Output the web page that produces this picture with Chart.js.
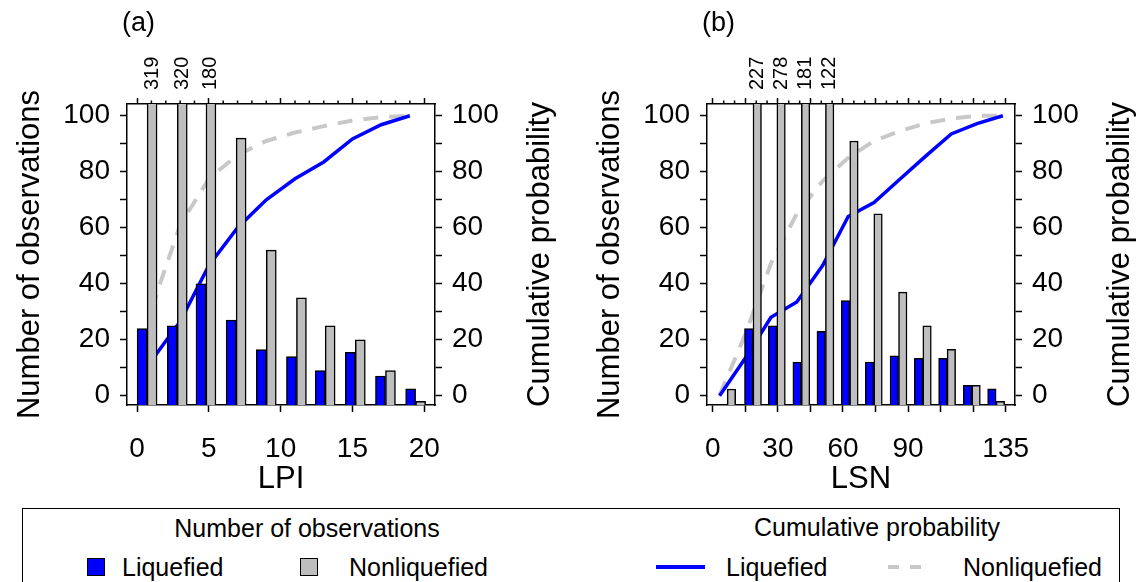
<!DOCTYPE html>
<html lang="en">
<head>
<meta charset="UTF-8">
<title>LPI and LSN distributions</title>
<script src="https://cdn.jsdelivr.net/npm/chart.js"></script>
<style>
    body { margin: 0; background: #fff; font-family: 'Liberation Sans', Arial, sans-serif; }
    #wrap { position: relative; width: 1140px; height: 582px; overflow: hidden; }
    .panel { position: absolute; top: 0; width: 570px; height: 505px; }
    #legend { position: absolute; left: 22px; top: 508px; width: 1098px; height: 100px;
              border: 1.5px solid #000; box-sizing: border-box; }
    #legend span { position: absolute; font-size: 25px; line-height: 28px; white-space: nowrap; color: #000; }
    #legend .center { transform: translateX(-50%); }
    #legend i { position: absolute; display: block; box-sizing: border-box; }
</style>
</head>
<body>
<div id="wrap">
    <canvas id="chart-lpi" class="panel" style="left:0" width="570" height="505"></canvas>
    <canvas id="chart-lsn" class="panel" style="left:570px" width="570" height="505"></canvas>

    <div id="legend">
        <span class="center" style="left:284px; top:5px">Number of observations</span>
        <span class="center" style="left:854px; top:4px">Cumulative probability</span>

        <i style="left:64px; top:49px; width:18px; height:18px; background:#0000ff; border:1.5px solid #000"></i>
        <span style="left:99px; top:44px">Liquefied</span>
        <i style="left:277px; top:49px; width:18px; height:18px; background:#bebebe; border:1.5px solid #000"></i>
        <span style="left:326px; top:44px">Nonliquefied</span>

        <i style="left:633px; top:56px; width:49px; height:4px; background:#0000ff"></i>
        <span style="left:703px; top:44px">Liquefied</span>
        <i style="left:865px; top:56px; width:11px; height:4px; background:#c8c8c8"></i>
        <i style="left:887px; top:56px; width:11px; height:4px; background:#c8c8c8"></i>
        <span style="left:940px; top:44px">Nonliquefied</span>
    </div>
</div>

<script>
    // ---- panel (a): LPI ----
    const lpiBarX       = [0.7, 2.8, 4.8, 6.9, 9.0, 11.1, 13.1, 15.2, 17.3, 19.4];
    const lpiLiqCount   = [24, 25, 40, 27, 16.5, 14, 9, 15.5, 7, 2.5];
    const lpiNonCount   = [319, 320, 180, 92, 52, 35, 25, 20, 9, -2];
    const lpiCumX       = [1, 3, 5, 7, 9, 11, 13, 15, 17, 19];
    const lpiLiqCum     = [12.5, 26.5, 46.5, 60, 70, 77.5, 83.5, 91.7, 96.8, 100];
    const lpiNonCum     = [31, 61, 77.5, 86, 91, 94, 96.3, 98.3, 99.5, 100];
    const lpiTicks      = [0, 5, 10, 15, 20];
    const lpiMinorTicks = [1, 2, 3, 4, 6, 7, 8, 9, 11, 12, 13, 14, 16, 17, 18, 19];
    const lpiLabels     = [0, 5, 10, 15, 20];

    // ---- panel (b): LSN ----
    const lsnBarX       = [6.6, 18.5, 29.5, 40.8, 51.9, 63.1, 74.2, 85.6, 96.8, 108.0, 119.4, 130.6];
    const lsnLiqCount   = [null, 24, 25, 12, 23, 34, 12, 14.3, 13.4, 13.4, 3.7, 2.5];
    const lsnNonCount   = [2.4, 227, 278, 181, 122, 91, 65, 37, 25, 16.6, 3.7, -2];
    const lsnCumX       = [3.1, 15, 26.8, 38.7, 50.6, 62.4, 74.3, 86.2, 98, 109.9, 121.8, 133.7];
    const lsnLiqCum     = [0, 13.5, 28, 33.5, 46.5, 64, 69, 77.3, 85.5, 93.5, 97.2, 100];
    const lsnNonCum     = [0.2, 22, 47.3, 65, 76.7, 85, 91, 94.5, 97.3, 99, 100, 100];
    const lsnTicks      = [0, 15, 30, 45, 60, 75, 90, 105, 120, 135];
    const lsnMinorTicks = [5, 10, 20, 25, 35, 40, 50, 55, 65, 70, 80, 85, 95, 100, 110, 115, 125, 130];
    const lsnLabels     = [0, 30, 60, 90, 135];

    // shared y axis (counts on the left, cumulative % on the right)
    const yTicks  = [0, 10, 20, 30, 40, 50, 60, 70, 80, 90, 100];
    const yLabels = [0, 20, 40, 60, 80, 100];

    const FONT = "'Liberation Sans', Arial, sans-serif";
    Chart.defaults.font.family = FONT;
    Chart.defaults.color = '#000';

    const pts = (xs, ys) => xs.map((x, i) => ({ x: x, y: ys[i] }));
    const tickList = arr => s => { s.ticks = arr.map(v => ({ value: v })); };

    // minor ticks, clipped-bar counts, right title and panel letter
    const decor = {
        id: 'decor',
        afterDraw(chart, args, o) {
            const ctx = chart.ctx, a = chart.chartArea, xs = chart.scales.x;
            ctx.save();
            ctx.strokeStyle = '#000';
            ctx.lineWidth = 1.5;
            o.minorTicks.forEach(v => {
                const px = xs.getPixelForValue(v);
                ctx.beginPath();
                ctx.moveTo(px, a.top);
                ctx.lineTo(px, a.top - 3.5);
                ctx.stroke();
            });

            ctx.fillStyle = '#000';
            ctx.font = '20px ' + FONT;
            ctx.textAlign = 'left';
            ctx.textBaseline = 'middle';
            const meta = chart.getDatasetMeta(1);
            const yMax = chart.scales.y.max;
            chart.data.datasets[1].data.forEach((d, i) => {
                if (d.y > yMax) {
                    ctx.save();
                    ctx.translate(meta.data[i].x, a.top - 14);
                    ctx.rotate(-Math.PI / 2);
                    ctx.fillText(String(d.y), 0, 0);
                    ctx.restore();
                }
            });

            ctx.font = '31px ' + FONT;
            ctx.textAlign = 'center';
            ctx.save();
            ctx.translate(a.right + 105, (a.top + a.bottom) / 2);
            ctx.rotate(-Math.PI / 2);
            ctx.fillText(o.rightTitle, 0, 0);
            ctx.restore();

            ctx.font = '27px ' + FONT;
            ctx.textAlign = 'left';
            ctx.fillText(o.letter, a.left - 5, 24);
            ctx.restore();
        }
    };

    function makePanel(id, p) {
        const axisLine = { color: '#000', width: 1.5 };
        const marks = len => ({ drawOnChartArea: false, tickLength: len, tickWidth: 1.5, tickColor: '#000', offset: false });
        const tickFont = { size: 28 };

        new Chart(document.getElementById(id), {
            type: 'bar',
            data: {
                datasets: [
                    { type: 'bar', data: pts(p.barX, p.liq), backgroundColor: '#0000ff', borderColor: '#000',
                      borderWidth: 1.5, barThickness: p.barW, base: -3.3, order: 0 },
                    { type: 'bar', data: pts(p.barX, p.non), backgroundColor: '#bebebe', borderColor: '#000',
                      borderWidth: 1.5, barThickness: p.barW, base: -3.3, order: 0 },
                    { type: 'line', data: pts(p.cumX, p.liqCum), borderColor: '#0000ff', borderWidth: 3.5,
                      pointRadius: 0, tension: 0, order: 1 },
                    { type: 'line', data: pts(p.cumX, p.nonCum), borderColor: '#c8c8c8', borderWidth: 4,
                      borderDash: [15, 11], pointRadius: 0, tension: 0, order: 1 }
                ]
            },
            options: {
                responsive: false,
                animation: false,
                layout: { padding: 0 },
                plugins: {
                    legend: { display: false },
                    tooltip: { enabled: false },
                    decor: { minorTicks: p.minor, rightTitle: 'Cumulative probability', letter: p.letter }
                },
                scales: {
                    x: {
                        type: 'linear', position: 'bottom', min: p.xMin, max: p.xMax, offset: false,
                        afterBuildTicks: tickList(p.ticks),
                        afterFit: s => { s.height = 100; },
                        ticks: { font: tickFont, padding: 20, maxRotation: 0, autoSkip: false,
                                 callback: v => p.labels.includes(v) ? String(v) : '' },
                        grid: marks(7),
                        border: axisLine,
                        title: { display: true, text: p.xTitle, font: { size: 31 }, padding: { top: 0, bottom: 7 } }
                    },
                    xTop: {
                        type: 'linear', position: 'top', min: p.xMin, max: p.xMax, offset: false,
                        afterBuildTicks: tickList(p.ticks),
                        afterFit: s => { s.height = 104; },
                        ticks: { autoSkip: false, callback: () => '' },
                        grid: marks(6),
                        border: axisLine
                    },
                    y: {
                        type: 'linear', position: 'left', min: -3.3, max: 104.2,
                        afterBuildTicks: tickList(yTicks),
                        afterFit: s => { s.width = p.leftW; },
                        ticks: { font: tickFont, padding: 10, autoSkip: false,
                                 callback: v => yLabels.includes(v) ? String(v) : '' },
                        grid: marks(7),
                        border: axisLine,
                        title: { display: true, text: 'Number of observations', font: { size: 31 },
                                 padding: { top: p.titlePad, bottom: 0 } }
                    },
                    yRight: {
                        type: 'linear', position: 'right', min: -3.3, max: 104.2,
                        afterBuildTicks: tickList(yTicks),
                        afterFit: s => { s.width = p.rightW; },
                        ticks: { font: tickFont, padding: 10, autoSkip: false,
                                 callback: v => yLabels.includes(v) ? String(v) : '' },
                        grid: marks(7),
                        border: axisLine
                    }
                }
            },
            plugins: [decor]
        });
    }

    makePanel('chart-lpi', {
        letter: '(a)', xTitle: 'LPI', xMin: -0.7, xMax: 20.75,
        barX: lpiBarX, liq: lpiLiqCount, non: lpiNonCount, barW: 10,
        cumX: lpiCumX, liqCum: lpiLiqCum, nonCum: lpiNonCum,
        ticks: lpiTicks, minor: lpiMinorTicks, labels: lpiLabels,
        leftW: 127, rightW: 135, titlePad: 11.4
    });

    makePanel('chart-lsn', {
        letter: '(b)', xTitle: 'LSN', xMin: -2.7, xMax: 139.3,
        barX: lsnBarX, liq: lsnLiqCount, non: lsnNonCount, barW: 8.5,
        cumX: lsnCumX, liqCum: lsnLiqCum, nonCum: lsnNonCum,
        ticks: lsnTicks, minor: lsnMinorTicks, labels: lsnLabels,
        leftW: 137, rightW: 125, titlePad: 21.4
    });
</script>
</body>
</html>
